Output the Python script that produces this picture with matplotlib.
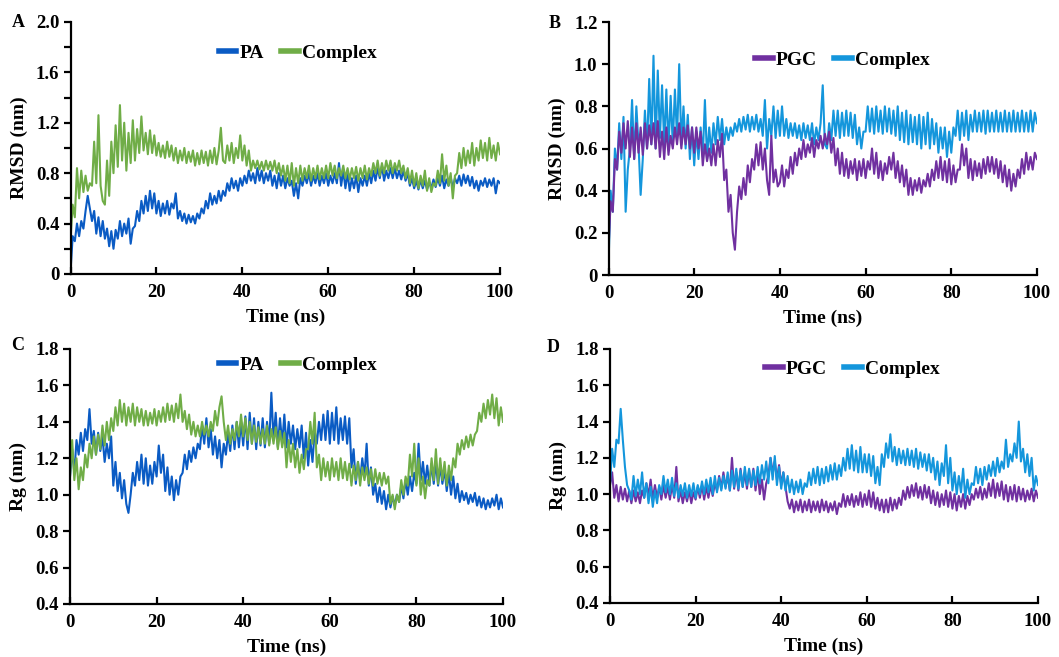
import numpy as np
import matplotlib
matplotlib.use("Agg")
from matplotlib import pyplot as plt
from matplotlib.ticker import MultipleLocator

plt.rcParams['font.family'] = ['Liberation Serif', 'DejaVu Serif']
plt.rcParams['font.weight'] = 'bold'

# values every 0.5 ns (upper / lower edge of the noisy band)
rmsd_pa = [
    0.02, 0.30, 0.26, 0.40, 0.30, 0.42, 0.36, 0.50, 0.62, 0.52,
    0.42, 0.50, 0.32, 0.45, 0.30, 0.42, 0.28, 0.36, 0.22, 0.34,
    0.20, 0.35, 0.28, 0.42, 0.30, 0.40, 0.32, 0.44, 0.24, 0.36,
    0.38, 0.50, 0.42, 0.58, 0.48, 0.62, 0.50, 0.66, 0.52, 0.64,
    0.48, 0.58, 0.46, 0.56, 0.48, 0.58, 0.47, 0.56, 0.52, 0.64,
    0.44, 0.50, 0.42, 0.48, 0.40, 0.47, 0.41, 0.46, 0.40, 0.48,
    0.44, 0.52, 0.48, 0.58, 0.52, 0.64, 0.55, 0.62, 0.56, 0.66,
    0.58, 0.66, 0.62, 0.72, 0.66, 0.76, 0.68, 0.74, 0.66, 0.76,
    0.70, 0.78, 0.72, 0.82, 0.74, 0.80, 0.72, 0.84, 0.74, 0.82,
    0.72, 0.80, 0.74, 0.82, 0.70, 0.78, 0.68, 0.80, 0.70, 0.78,
    0.68, 0.76, 0.70, 0.74, 0.62, 0.72, 0.60, 0.76, 0.70, 0.78,
    0.72, 0.80, 0.70, 0.78, 0.72, 0.80, 0.70, 0.78, 0.72, 0.80,
    0.70, 0.78, 0.72, 0.80, 0.72, 0.88, 0.70, 0.82, 0.68, 0.80,
    0.66, 0.76, 0.68, 0.78, 0.65, 0.76, 0.70, 0.78, 0.70, 0.80,
    0.72, 0.82, 0.74, 0.84, 0.76, 0.86, 0.74, 0.82, 0.76, 0.84,
    0.76, 0.84, 0.76, 0.82, 0.75, 0.82, 0.74, 0.80, 0.70, 0.76,
    0.68, 0.74, 0.67, 0.75, 0.68, 0.74, 0.67, 0.73, 0.68, 0.75,
    0.69, 0.76, 0.70, 0.78, 0.68, 0.75, 0.70, 0.77, 0.68, 0.76,
    0.72, 0.78, 0.70, 0.79, 0.72, 0.78, 0.70, 0.77, 0.68, 0.74,
    0.66, 0.74, 0.70, 0.76, 0.69, 0.75, 0.70, 0.76, 0.64, 0.74,
    0.72]

rmsd_pa_complex = [
    0.28, 0.55, 0.45, 0.84, 0.60, 0.82, 0.65, 0.78, 0.66, 0.72,
    0.70, 1.05, 0.72, 1.26, 0.70, 0.58, 0.55, 0.90, 0.62, 1.05,
    0.80, 1.18, 0.85, 1.34, 0.90, 1.20, 0.82, 1.12, 0.88, 1.22,
    0.90, 1.15, 0.96, 1.25, 0.98, 1.12, 0.95, 1.14, 0.96, 1.10,
    0.94, 1.04, 0.93, 1.02, 0.92, 1.05, 0.93, 1.02, 0.90, 1.00,
    0.88, 0.98, 0.90, 1.00, 0.88, 0.97, 0.89, 0.98, 0.86, 0.96,
    0.87, 0.98, 0.88, 0.97, 0.86, 0.98, 0.88, 1.00, 0.87, 0.98,
    1.16, 0.90, 0.88, 1.02, 0.90, 1.04, 0.88, 1.00, 0.92, 1.10,
    0.90, 1.02, 0.86, 0.98, 0.82, 0.90, 0.84, 0.90, 0.83, 0.89,
    0.82, 0.90, 0.83, 0.89, 0.82, 0.90, 0.80, 0.88, 0.78, 0.86,
    0.74, 0.86, 0.72, 0.88, 0.70, 0.84, 0.72, 0.86, 0.74, 0.84,
    0.76, 0.86, 0.74, 0.84, 0.76, 0.86, 0.75, 0.84, 0.76, 0.86,
    0.76, 0.88, 0.78, 0.86, 0.76, 0.84, 0.78, 0.86, 0.76, 0.84,
    0.75, 0.84, 0.76, 0.85, 0.74, 0.84, 0.76, 0.86, 0.75, 0.84,
    0.78, 0.88, 0.80, 0.90, 0.78, 0.88, 0.80, 0.90, 0.82, 0.90,
    0.80, 0.88, 0.82, 0.90, 0.80, 0.86, 0.76, 0.84, 0.72, 0.82,
    0.70, 0.80, 0.68, 0.78, 0.70, 0.82, 0.66, 0.76, 0.65, 0.72,
    0.70, 0.82, 0.72, 0.95, 0.74, 0.86, 0.70, 0.80, 0.60, 0.78,
    0.80, 0.96, 0.84, 1.00, 0.86, 0.98, 0.88, 1.04, 0.86, 1.00,
    0.90, 1.06, 0.92, 1.04, 0.90, 1.08, 0.92, 1.02, 0.90, 1.04,
    0.95]

rmsd_pgc = [
    0.12, 0.35, 0.30, 0.55, 0.50, 0.68, 0.58, 0.72, 0.60, 0.73,
    0.56, 0.70, 0.55, 0.72, 0.58, 0.70, 0.57, 0.72, 0.60, 0.71,
    0.62, 0.72, 0.60, 0.73, 0.56, 0.68, 0.55, 0.70, 0.57, 0.66,
    0.60, 0.70, 0.62, 0.72, 0.60, 0.70, 0.62, 0.71, 0.60, 0.70,
    0.58, 0.70, 0.60, 0.68, 0.52, 0.62, 0.54, 0.60, 0.52, 0.62,
    0.52, 0.64, 0.56, 0.67, 0.45, 0.50, 0.30, 0.38, 0.20, 0.12,
    0.30, 0.42, 0.36, 0.46, 0.38, 0.52, 0.44, 0.55, 0.50, 0.62,
    0.52, 0.63, 0.50, 0.60, 0.45, 0.38, 0.66, 0.44, 0.50, 0.42,
    0.44, 0.52, 0.42, 0.50, 0.46, 0.56, 0.48, 0.58, 0.52, 0.60,
    0.55, 0.64, 0.56, 0.62, 0.58, 0.65, 0.56, 0.64, 0.60, 0.66,
    0.60, 0.67, 0.62, 0.68, 0.58, 0.65, 0.52, 0.60, 0.48, 0.58,
    0.47, 0.55, 0.46, 0.54, 0.48, 0.55, 0.45, 0.54, 0.47, 0.55,
    0.46, 0.54, 0.50, 0.60, 0.48, 0.58, 0.46, 0.54, 0.45, 0.53,
    0.48, 0.56, 0.50, 0.58, 0.46, 0.54, 0.44, 0.52, 0.42, 0.50,
    0.38, 0.46, 0.38, 0.45, 0.40, 0.46, 0.39, 0.45, 0.42, 0.48,
    0.42, 0.50, 0.45, 0.54, 0.46, 0.56, 0.45, 0.54, 0.44, 0.55,
    0.43, 0.52, 0.44, 0.50, 0.50, 0.62, 0.52, 0.60, 0.46, 0.55,
    0.45, 0.54, 0.47, 0.53, 0.46, 0.55, 0.48, 0.56, 0.49, 0.56,
    0.48, 0.55, 0.46, 0.54, 0.44, 0.52, 0.42, 0.50, 0.40, 0.48,
    0.42, 0.50, 0.46, 0.55, 0.48, 0.58, 0.50, 0.56, 0.50, 0.58,
    0.55]

rmsd_pgc_complex = [
    0.05, 0.40, 0.30, 0.60, 0.50, 0.72, 0.55, 0.75, 0.30, 0.50,
    0.60, 0.83, 0.55, 0.80, 0.62, 0.38, 0.55, 0.78, 0.60, 0.93,
    0.62, 1.04, 0.60, 0.97, 0.65, 0.90, 0.62, 0.88, 0.60, 0.85,
    0.62, 0.88, 0.65, 1.00, 0.62, 0.80, 0.60, 0.76, 0.55, 0.70,
    0.52, 0.68, 0.55, 0.70, 0.56, 0.83, 0.55, 0.70, 0.58, 0.72,
    0.62, 0.75, 0.64, 0.74, 0.62, 0.70, 0.64, 0.70, 0.66, 0.72,
    0.68, 0.74, 0.68, 0.75, 0.69, 0.76, 0.68, 0.75, 0.69, 0.76,
    0.68, 0.74, 0.66, 0.83, 0.60, 0.74, 0.66, 0.80, 0.65, 0.78,
    0.66, 0.80, 0.66, 0.74, 0.65, 0.72, 0.66, 0.72, 0.65, 0.71,
    0.64, 0.72, 0.65, 0.71, 0.64, 0.72, 0.62, 0.70, 0.64, 0.72,
    0.90, 0.62, 0.60, 0.72, 0.64, 0.78, 0.66, 0.78, 0.65, 0.77,
    0.66, 0.78, 0.66, 0.77, 0.65, 0.76, 0.62, 0.70, 0.60, 0.68,
    0.68, 0.80, 0.68, 0.79, 0.67, 0.80, 0.68, 0.78, 0.67, 0.80,
    0.68, 0.79, 0.67, 0.78, 0.66, 0.80, 0.64, 0.77, 0.63, 0.78,
    0.62, 0.76, 0.63, 0.75, 0.62, 0.76, 0.60, 0.75, 0.62, 0.77,
    0.60, 0.74, 0.62, 0.72, 0.58, 0.70, 0.60, 0.70, 0.56, 0.68,
    0.58, 0.70, 0.66, 0.78, 0.64, 0.77, 0.66, 0.78, 0.64, 0.76,
    0.68, 0.78, 0.68, 0.77, 0.68, 0.78, 0.67, 0.78, 0.68, 0.77,
    0.68, 0.78, 0.68, 0.77, 0.68, 0.78, 0.68, 0.77, 0.68, 0.78,
    0.68, 0.77, 0.68, 0.78, 0.68, 0.77, 0.68, 0.78, 0.68, 0.77,
    0.72]

rg_pa = [
    1.10, 1.25, 1.12, 1.30, 1.22, 1.34, 1.24, 1.36, 1.30, 1.47,
    1.28, 1.35, 1.22, 1.34, 1.24, 1.32, 1.18, 1.28, 1.20, 1.32,
    1.05, 1.18, 1.02, 1.12, 0.98, 1.08, 0.95, 0.90, 1.00, 1.12,
    1.05, 1.18, 1.08, 1.22, 1.06, 1.20, 1.05, 1.16, 1.06, 1.18,
    1.10, 1.27, 1.12, 1.22, 1.02, 1.15, 1.00, 1.10, 0.97, 1.08,
    1.00, 1.10, 1.12, 1.22, 1.14, 1.24, 1.18, 1.26, 1.20, 1.28,
    1.25, 1.38, 1.28, 1.42, 1.26, 1.36, 1.22, 1.32, 1.20, 1.30,
    1.15, 1.28, 1.22, 1.34, 1.24, 1.38, 1.25, 1.40, 1.26, 1.40,
    1.27, 1.43, 1.25, 1.45, 1.28, 1.42, 1.25, 1.40, 1.27, 1.42,
    1.26, 1.40, 1.28, 1.56, 1.30, 1.45, 1.26, 1.42, 1.28, 1.44,
    1.26, 1.40, 1.28, 1.38, 1.25, 1.36, 1.26, 1.38, 1.20, 1.34,
    1.16, 1.30, 1.18, 1.35, 1.28, 1.40, 1.30, 1.44, 1.30, 1.46,
    1.28, 1.45, 1.30, 1.48, 1.28, 1.42, 1.30, 1.43, 1.28, 1.42,
    1.15, 1.25, 1.06, 1.18, 1.08, 1.20, 1.10, 1.28, 1.05, 1.15,
    1.00, 1.06, 0.96, 1.04, 0.95, 1.02, 0.92, 1.00, 0.93, 0.99,
    0.94, 1.00, 0.96, 1.05, 0.98, 1.08, 1.00, 1.10, 1.02, 1.12,
    1.06, 1.28, 1.08, 1.18, 1.06, 1.16, 1.05, 1.17, 1.06, 1.18,
    1.05, 1.16, 1.06, 1.14, 1.02, 1.12, 1.00, 1.10, 0.98, 1.06,
    0.96, 1.02, 0.97, 1.01, 0.95, 1.00, 0.96, 1.01, 0.94, 0.99,
    0.93, 0.98, 0.92, 0.97, 0.93, 0.98, 0.94, 1.00, 0.92, 0.98,
    0.93]

rg_pa_complex = [
    1.10, 1.30, 1.08, 1.20, 1.03, 1.15, 1.08, 1.22, 1.15, 1.28,
    1.20, 1.32, 1.22, 1.33, 1.25, 1.38, 1.27, 1.40, 1.30, 1.42,
    1.35, 1.48, 1.38, 1.52, 1.40, 1.50, 1.38, 1.48, 1.40, 1.50,
    1.38, 1.48, 1.40, 1.47, 1.38, 1.46, 1.38, 1.45, 1.39, 1.47,
    1.38, 1.46, 1.40, 1.48, 1.40, 1.50, 1.41, 1.49, 1.40, 1.50,
    1.42, 1.55, 1.40, 1.46, 1.36, 1.44, 1.33, 1.40, 1.32, 1.38,
    1.32, 1.40, 1.33, 1.38, 1.32, 1.40, 1.35, 1.46, 1.38, 1.48,
    1.54, 1.40, 1.30, 1.38, 1.28, 1.36, 1.30, 1.40, 1.32, 1.44,
    1.32, 1.42, 1.30, 1.40, 1.28, 1.38, 1.29, 1.37, 1.28, 1.36,
    1.28, 1.38, 1.27, 1.36, 1.28, 1.37, 1.25, 1.35, 1.26, 1.34,
    1.15, 1.30, 1.18, 1.28, 1.15, 1.25, 1.12, 1.22, 1.14, 1.25,
    1.25, 1.40, 1.28, 1.45, 1.15, 1.22, 1.08, 1.20, 1.10, 1.18,
    1.08, 1.20, 1.10, 1.18, 1.08, 1.20, 1.09, 1.18, 1.08, 1.17,
    1.05, 1.16, 1.08, 1.18, 1.05, 1.15, 1.08, 1.15, 1.06, 1.14,
    1.05, 1.14, 1.06, 1.12, 1.05, 1.12, 1.06, 1.10, 0.95, 1.00,
    0.92, 1.00, 0.96, 1.08, 1.00, 1.10, 1.05, 1.22, 1.10, 1.28,
    1.05, 1.20, 1.00, 1.10, 0.98, 1.08, 1.05, 1.20, 1.08, 1.25,
    1.06, 1.20, 1.08, 1.18, 1.05, 1.16, 1.08, 1.20, 1.15, 1.28,
    1.22, 1.30, 1.25, 1.32, 1.26, 1.33, 1.27, 1.33, 1.35, 1.45,
    1.40, 1.50, 1.42, 1.52, 1.44, 1.55, 1.42, 1.53, 1.38, 1.48,
    1.40]

rg_pgc = [
    1.05, 1.12, 0.98, 1.05, 0.96, 1.04, 0.97, 1.03, 0.96, 1.02,
    0.95, 1.02, 0.96, 1.01, 0.95, 1.02, 0.98, 1.06, 0.99, 1.08,
    0.97, 1.05, 0.98, 1.04, 0.97, 1.05, 0.98, 1.04, 0.97, 1.05,
    0.98, 1.15, 0.96, 1.02, 0.95, 1.01, 0.96, 1.02, 0.95, 1.01,
    0.97, 1.04, 0.98, 1.05, 0.97, 1.04, 0.98, 1.05, 0.99, 1.06,
    1.02, 1.10, 1.03, 1.12, 1.04, 1.10, 1.02, 1.20, 1.03, 1.12,
    1.02, 1.14, 1.04, 1.12, 1.03, 1.13, 1.04, 1.14, 1.02, 1.12,
    1.00, 1.08, 0.97, 1.06, 1.10, 1.20, 1.12, 1.18, 1.08, 1.16,
    1.05, 1.12, 1.04, 0.96, 0.92, 0.97, 0.90, 0.96, 0.91, 0.97,
    0.90, 0.96, 0.91, 0.97, 0.90, 0.96, 0.91, 0.96, 0.90, 0.97,
    0.91, 0.96, 0.90, 0.95, 0.91, 0.96, 0.89, 0.95, 0.93, 1.00,
    0.93, 0.99, 0.94, 1.00, 0.93, 0.99, 0.94, 1.01, 0.93, 1.00,
    0.94, 1.02, 0.93, 1.01, 0.92, 0.98, 0.91, 0.97, 0.90, 0.97,
    0.90, 0.98, 0.91, 0.97, 0.92, 0.98, 0.94, 1.02, 0.97, 1.04,
    0.98, 1.05, 0.99, 1.06, 0.98, 1.04, 0.97, 1.05, 0.98, 1.04,
    0.95, 1.02, 0.94, 1.01, 0.93, 1.00, 0.94, 1.02, 0.93, 1.01,
    0.92, 1.00, 0.91, 0.99, 0.93, 1.00, 0.92, 0.99, 0.94, 1.00,
    0.97, 1.03, 0.98, 1.04, 0.97, 1.03, 0.98, 1.06, 0.99, 1.08,
    0.98, 1.06, 0.99, 1.07, 0.97, 1.05, 0.96, 1.04, 0.97, 1.05,
    0.96, 1.04, 0.97, 1.03, 0.96, 1.02, 0.97, 1.03, 0.96, 1.02,
    0.98]

rg_pgc_complex = [
    1.05, 1.25, 1.15, 1.30, 1.28, 1.47, 1.30, 1.15, 1.05, 1.02,
    0.97, 1.10, 0.99, 1.08, 1.00, 1.12, 0.98, 1.06, 0.95, 1.04,
    0.93, 1.02, 0.95, 1.05, 1.00, 1.10, 1.01, 1.08, 1.00, 1.09,
    0.99, 1.06, 0.98, 1.05, 0.99, 1.06, 0.98, 1.05, 0.99, 1.06,
    0.98, 1.05, 1.00, 1.07, 1.00, 1.08, 1.01, 1.09, 1.00, 1.10,
    1.01, 1.09, 1.02, 1.10, 1.03, 1.12, 1.02, 1.13, 1.04, 1.14,
    1.03, 1.13, 1.04, 1.15, 1.05, 1.14, 1.04, 1.13, 1.05, 1.15,
    1.06, 1.16, 1.08, 1.18, 1.06, 1.20, 1.08, 1.21, 1.05, 1.15,
    1.03, 1.12, 1.02, 1.10, 1.01, 1.08, 1.00, 1.07, 1.01, 1.08,
    1.00, 1.06, 1.04, 1.12, 1.05, 1.14, 1.06, 1.15, 1.05, 1.14,
    1.06, 1.15, 1.07, 1.16, 1.08, 1.17, 1.08, 1.16, 1.10, 1.20,
    1.13, 1.25, 1.14, 1.27, 1.13, 1.24, 1.12, 1.26, 1.12, 1.22,
    1.12, 1.22, 1.10, 1.21, 1.06, 1.15, 1.05, 1.22, 1.15, 1.28,
    1.20, 1.33, 1.18, 1.26, 1.16, 1.25, 1.17, 1.24, 1.16, 1.25,
    1.16, 1.24, 1.15, 1.25, 1.14, 1.23, 1.15, 1.22, 1.13, 1.22,
    1.12, 1.20, 1.08, 1.18, 1.05, 1.17, 1.10, 1.27, 1.06, 1.20,
    1.02, 1.12, 1.00, 1.10, 1.01, 1.14, 0.98, 1.08, 1.00, 1.06,
    1.05, 1.15, 1.06, 1.14, 1.05, 1.15, 1.08, 1.16, 1.10, 1.18,
    1.10, 1.20, 1.12, 1.18, 1.14, 1.30, 1.15, 1.22, 1.18, 1.28,
    1.20, 1.40, 1.18, 1.25, 1.12, 1.22, 1.10, 1.20, 1.02, 1.10,
    1.05]

BLUE = '#0A5BC4'
GREEN = '#70AD47'
PURPLE = '#7030A0'
SKY = '#1496DC'

panels = [
    # letter, axes rect, series, ylabel, ylim, label step, legend centre, letter position
    ('A', [0.0666, 0.5830, 0.4056, 0.3836],
     [(rmsd_pa, BLUE, 'PA'), (rmsd_pa_complex, GREEN, 'Complex')],
     'RMSD (nm)', (0, 2.0), 0.4, (0.281, 0.919), (0.017, 0.966)),
    ('B', [0.5746, 0.5814, 0.4046, 0.3851],
     [(rmsd_pgc_complex, SKY, 'Complex'), (rmsd_pgc, PURPLE, 'PGC')],
     'RMSD (nm)', (0, 1.2), 0.2, (0.7956, 0.909), (0.524, 0.964)),
    ('C', [0.0661, 0.0807, 0.4089, 0.3881],
     [(rg_pa, BLUE, 'PA'), (rg_pa_complex, GREEN, 'Complex')],
     'Rg (nm)', (0.4, 1.8), 0.2, (0.281, 0.4444), (0.017, 0.474)),
    ('D', [0.5760, 0.0822, 0.4042, 0.3866],
     [(rg_pgc, PURPLE, 'PGC'), (rg_pgc_complex, SKY, 'Complex')],
     'Rg (nm)', (0.4, 1.8), 0.2, (0.805, 0.438), (0.522, 0.471)),
]

fig = plt.figure(figsize=(10.59, 6.57), dpi=100)

for letter, rect, series, ylab, ylim, step, leg_xy, let_xy in panels:
    ax = fig.add_axes(rect)
    handles = {}
    for values, color, name in series:
        t = np.linspace(0, 100, len(values))
        line, = ax.plot(t, values, color=color, lw=1.5)
        handles[name] = line
    ax.set_xlim(0, 100)
    ax.set_ylim(*ylim)
    ax.xaxis.set_major_locator(MultipleLocator(20))
    ax.yaxis.set_major_locator(MultipleLocator(step))
    ax.yaxis.set_minor_locator(MultipleLocator(0.2))
    if letter == 'A':
        ax.set_yticks([0, 0.4, 0.8, 1.2, 1.6, 2.0])
        ax.set_yticklabels(['0', '0.4', '0.8', '1.2', '1.6', '2.0'])
    elif letter == 'B':
        ax.set_yticklabels(['0' if abs(v) < 1e-9 else f'{v:.1f}' for v in ax.get_yticks()])
    for s in ['top', 'right']:
        ax.spines[s].set_visible(False)
    for s in ['left', 'bottom']:
        ax.spines[s].set_linewidth(1.6)
    ax.tick_params(axis='x', direction='in', length=5, width=1.6, pad=7, labelsize=13.5)
    ax.tick_params(axis='y', which='both', direction='out', length=5, width=1.6, pad=3, labelsize=13.5)
    ax.set_xlabel('Time (ns)', fontsize=14, fontweight='bold', labelpad=6)
    ax.set_ylabel(ylab, fontsize=14, fontweight='bold', labelpad=6)

    # legend: the protein first, then the complex
    names = ['PGC', 'Complex'] if letter == 'B' else [n for _, _, n in series]
    leg = fig.legend([handles[n] for n in names], names,
                     loc='center', bbox_to_anchor=leg_xy, ncol=2, frameon=False,
                     handlelength=0.9, handletextpad=0.15, columnspacing=0.9,
                     prop={'size': 14, 'weight': 'bold'})
    for lh in leg.get_lines():
        lh.set_linewidth(4)
    fig.text(let_xy[0], let_xy[1], letter, fontsize=13, fontweight='bold',
             ha='center', va='center')

fig.savefig('out.png', dpi=100)
